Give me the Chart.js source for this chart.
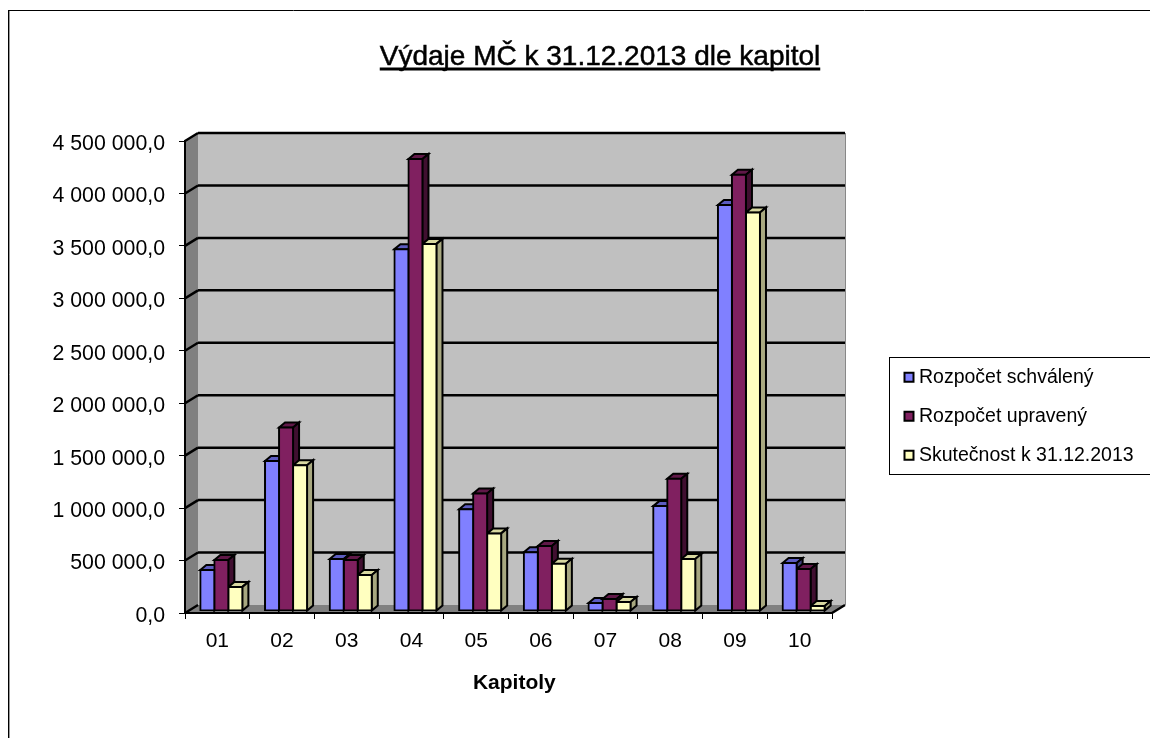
<!DOCTYPE html>
<html>
<head>
<meta charset="utf-8">
<style>
html, body { margin: 0; background: #fff; }
canvas { display: block; }
</style>
<script src="https://cdn.jsdelivr.net/npm/chart.js@4"></script>
</head>
<body>
<canvas id="chart" width="1150" height="738"></canvas>
<script>
const categories = ["01", "02", "03", "04", "05", "06", "07", "08", "09", "10"];
const schvaleny = [390000, 1430000, 495000, 3450000, 970000, 560000, 76000, 1000000, 3870000, 457000];
const upraveny = [486000, 1750000, 486000, 4310000, 1120000, 620000, 114000, 1260000, 4160000, 400000];
const skutecnost = [230000, 1390000, 343000, 3500000, 740000, 450000, 86000, 495000, 3800000, 48000];
const yTickLabels = ["0,0", "500 000,0", "1 000 000,0", "1 500 000,0", "2 000 000,0", "2 500 000,0",
    "3 000 000,0", "3 500 000,0", "4 000 000,0", "4 500 000,0"];

const FONT = "'Liberation Sans', Arial, sans-serif";
const DEPTH_X = 13, DEPTH_Y = 8;      // back wall offset
const BAR_DX = 6, BAR_DY = 5;         // bar depth
const SHIFT_X = 4, SHIFT_Y = 2;       // bars stand a bit inside the floor

function poly(ctx, pts, fill, stroke, width) {
    ctx.beginPath();
    pts.forEach((p, i) => i ? ctx.lineTo(p[0], p[1]) : ctx.moveTo(p[0], p[1]));
    ctx.closePath();
    if (fill) { ctx.fillStyle = fill; ctx.fill(); }
    if (stroke) { ctx.strokeStyle = stroke; ctx.lineWidth = width; ctx.stroke(); }
}

function line(ctx, x1, y1, x2, y2, color, width) {
    ctx.beginPath();
    ctx.moveTo(x1, y1);
    ctx.lineTo(x2, y2);
    ctx.strokeStyle = color;
    ctx.lineWidth = width;
    ctx.stroke();
}

const walls = {
    id: "walls",
    beforeDraw(chart) {
        const ctx = chart.ctx;
        const { left, right, top, bottom } = chart.chartArea;

        // outer frame
        line(ctx, 8, 10.5, 1150, 10.5, "#000", 1);
        line(ctx, 8.5, 10, 8.5, 738, "#000", 1);
        line(ctx, 9.5, 11, 9.5, 738, "#999", 1);

        // legend box
        line(ctx, 889, 357.5, 1150, 357.5, "#000", 1);
        line(ctx, 889, 474.5, 1150, 474.5, "#000", 1);
        line(ctx, 889.5, 357, 889.5, 475, "#000", 1);

        poly(ctx, [[left + DEPTH_X, top - DEPTH_Y], [right + DEPTH_X, top - DEPTH_Y],
            [right + DEPTH_X, bottom - DEPTH_Y], [left + DEPTH_X, bottom - DEPTH_Y]], "#c0c0c0");
        poly(ctx, [[left, top], [left + DEPTH_X, top - DEPTH_Y],
            [left + DEPTH_X, bottom - DEPTH_Y], [left, bottom]], "#808080");
        poly(ctx, [[left, bottom], [left + DEPTH_X, bottom - DEPTH_Y],
            [right + DEPTH_X, bottom - DEPTH_Y], [right, bottom]], "#808080");
        line(ctx, right + DEPTH_X + 0.5, top - DEPTH_Y, right + DEPTH_X + 0.5, bottom - DEPTH_Y, "#888", 1);

        const yScale = chart.scales.y;
        yScale.ticks.forEach(t => {
            const y = yScale.getPixelForValue(t.value);
            if (t.value === 0) {
                line(ctx, left, y, left + DEPTH_X, y - DEPTH_Y, "#000", 2.5);
                line(ctx, right, y, right + DEPTH_X, y - DEPTH_Y, "#000", 2.5);
                return;
            }
            line(ctx, left, y, left + DEPTH_X, y - DEPTH_Y, "#000", 2.5);
            line(ctx, left + DEPTH_X, y - DEPTH_Y, right + DEPTH_X, y - DEPTH_Y, "#000", 2.5);
        });

        // title sits right of the page centre, legend goes beside the plot
        chart.titleBlock.left = 50;
        chart.titleBlock.right = 1150;
        chart.legend.left = 889.25;
        chart.legend.right = 1150;
        chart.legend.top = 348;
        chart.legend.bottom = 500;
    },
    beforeDatasetsDraw(chart) {
        const ctx = chart.ctx;
        ctx.save();
        ctx.translate(SHIFT_X, -SHIFT_Y);
        chart.data.datasets.forEach((ds, i) => {
            chart.getDatasetMeta(i).data.forEach(bar => {
                const p = bar.getProps(["x", "y", "base", "width"], true);
                const l = p.x - p.width / 2, r = p.x + p.width / 2;
                poly(ctx, [[l, p.y], [l + BAR_DX, p.y - BAR_DY], [r + BAR_DX, p.y - BAR_DY], [r, p.y]],
                    ds.topColor, "#000", 2);
                poly(ctx, [[r, p.y], [r + BAR_DX, p.y - BAR_DY], [r + BAR_DX, p.base - BAR_DY], [r, p.base]],
                    ds.sideColor, "#000", 2);
            });
        });
    },
    afterDatasetsDraw(chart) {
        chart.ctx.restore();
    },
    afterDraw(chart) {
        const ctx = chart.ctx;
        const title = chart.options.plugins.title;
        ctx.font = "28px " + FONT;
        const w = ctx.measureText(title.text).width;
        // the reference title is a little heavier than the regular face
        ctx.textAlign = "center";
        ctx.textBaseline = "middle";
        ctx.strokeStyle = "#000";
        ctx.lineWidth = 0.5;
        ctx.strokeText(title.text, 600, 57.3);
        line(ctx, 600 - w / 2, 69, 600 + w / 2, 69, "#000", 3);
    }
};

new Chart(document.getElementById("chart"), {
    type: "bar",
    data: {
        labels: categories,
        datasets: [
            { label: "Rozpočet schválený", data: schvaleny, backgroundColor: "#8080ff", topColor: "#5c5cc0", sideColor: "#404080" },
            { label: "Rozpočet upravený", data: upraveny, backgroundColor: "#802060", topColor: "#601848", sideColor: "#400f30" },
            { label: "Skutečnost k 31.12.2013", data: skutecnost, backgroundColor: "#ffffc0", topColor: "#d8d8a0", sideColor: "#a8a880" }
        ]
    },
    options: {
        responsive: false,
        animation: false,
        events: [],
        layout: { autoPadding: false, padding: { left: 0, right: 318, top: 0, bottom: 0 } },
        datasets: {
            bar: {
                borderColor: "#000",
                borderWidth: 2,
                borderSkipped: false,
                inflateAmount: 1,
                categoryPercentage: 0.65,
                barPercentage: 1
            }
        },
        plugins: {
            tooltip: { enabled: false },
            title: {
                display: true,
                text: "Výdaje MČ k 31.12.2013 dle kapitol",
                color: "#000",
                font: { family: FONT, size: 28, weight: "normal" },
                padding: { top: 40.5, bottom: 66.9 }
            },
            legend: {
                position: "chartArea",
                align: "start",
                labels: {
                    color: "#000",
                    font: { family: FONT, size: 19.5 },
                    usePointStyle: true,
                    pointStyle: "rect",
                    boxWidth: 0.5,
                    boxHeight: 9,
                    padding: 19.5
                }
            }
        },
        scales: {
            x: {
                afterFit: s => { s.height = 125; },
                grid: { drawOnChartArea: false, drawTicks: true, tickLength: 6, tickColor: "#000", offset: true },
                border: { color: "#000", width: 2 },
                ticks: { color: "#000", font: { family: FONT, size: 21 }, padding: 10, maxRotation: 0 },
                title: {
                    display: true,
                    text: "  Kapitoly",
                    color: "#000",
                    font: { family: FONT, size: 21, weight: "bold" },
                    padding: { top: 0, bottom: 42 }
                }
            },
            y: {
                min: 0,
                max: 4500000,
                afterFit: s => { s.width = 185; },
                grid: { drawOnChartArea: false, drawTicks: true, tickLength: 6, tickColor: "#000" },
                border: { color: "#000", width: 2 },
                ticks: {
                    stepSize: 500000,
                    color: "#000",
                    font: { family: FONT, size: 21.3 },
                    padding: 14,
                    labelOffset: 3,
                    callback: (v, i) => yTickLabels[i]
                }
            }
        }
    },
    plugins: [walls]
});
</script>
</body>
</html>
